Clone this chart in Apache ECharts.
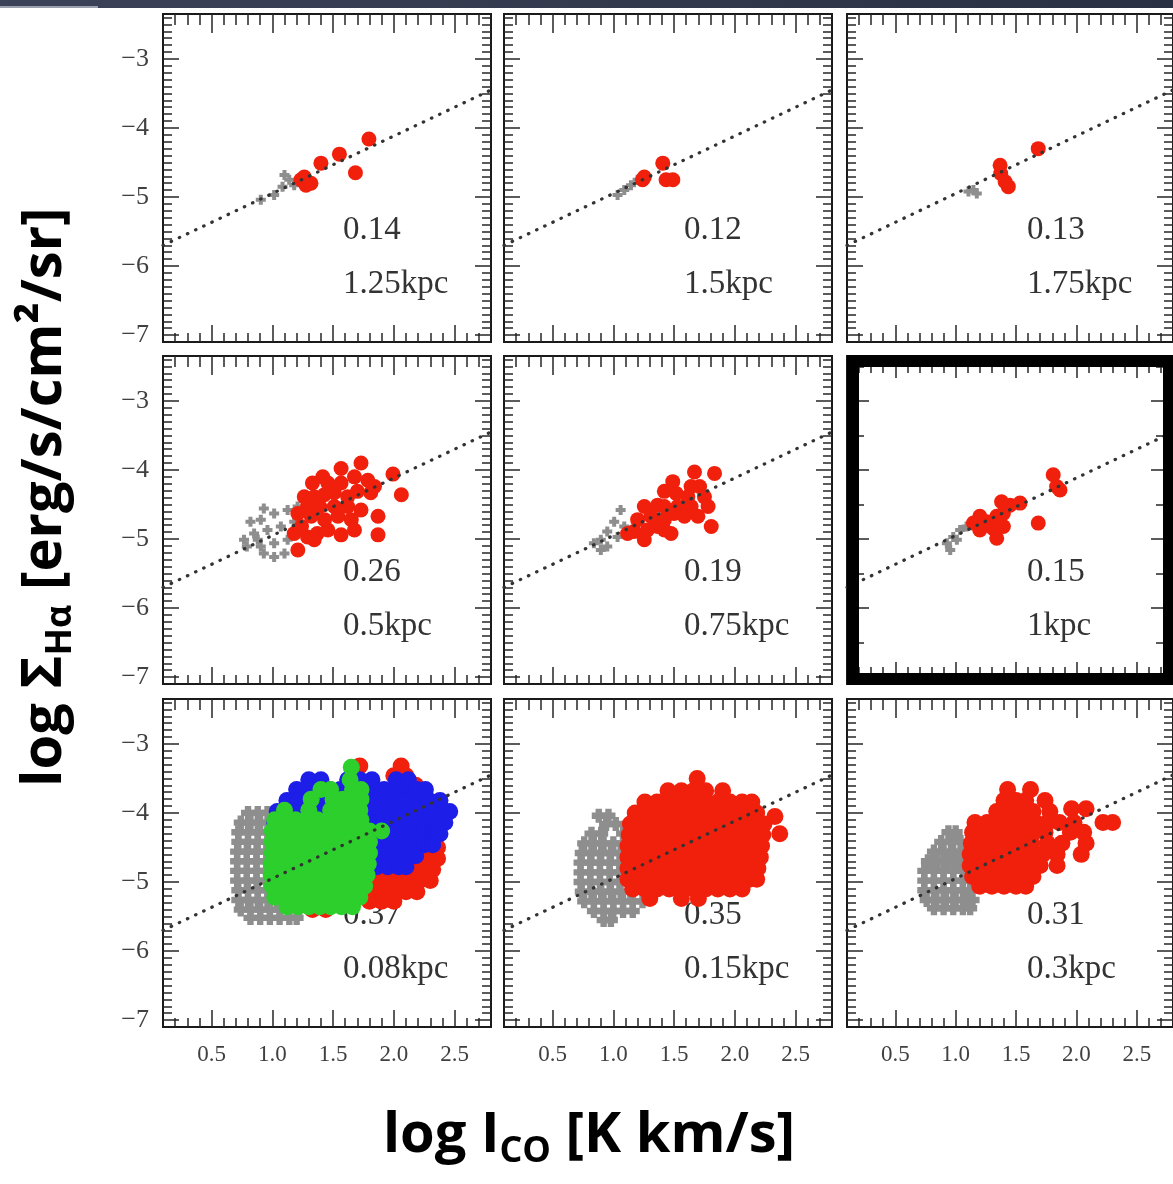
<!DOCTYPE html>
<html>
<head>
<meta charset="utf-8">
<script src="https://cdn.jsdelivr.net/npm/echarts@6.0.0/dist/echarts.min.js"></script>
<style>
  html, body { margin: 0; padding: 0; background: #fff; }
  #chart { width: 1173px; height: 1184px; }
</style>
</head>
<body>
<div id="chart"></div>
<script>
// axis ranges and ticks (shared by all nine panels)
const xRange = [0.1, 2.8]
const yRange = [-7.1, -2.35]
const xMajorTicks = [0.5, 1.0, 1.5, 2.0, 2.5]
const xMinorTicks = [0.2, 0.3, 0.4, 0.6, 0.7, 0.8, 0.9, 1.1, 1.2, 1.3, 1.4, 1.6, 1.7, 1.8, 1.9, 2.1, 2.2, 2.3, 2.4, 2.6, 2.7]
const yMajorTicks = [-7, -6, -5, -4, -3]
const yHalfTicks = [-6.5, -5.5, -4.5, -3.5, -2.5]
const yMinorTicks = []
for (let v = -70; v <= -24; v++) if (v % 10 !== 0) yMinorTicks.push(v / 10)

// dotted relation line
const fitX = [0.1, 2.8]
const fitY = [-5.7, -3.45]

// panel annotations (row by row)
const corrLabels = ['0.14', '0.12', '0.13', '0.26', '0.19', '0.15', '0.37', '0.35', '0.31']
const scaleLabels = ['1.25kpc', '1.5kpc', '1.75kpc', '0.5kpc', '0.75kpc', '1kpc', '0.08kpc', '0.15kpc', '0.3kpc']

// --- sparse panels: [log I_CO, log Sigma_Halpha]
const gray_125 = [[0.905, -5.04], [1.015, -4.97], [1.084, -4.85], [1.139, -4.75], [1.10, -4.68], [1.18, -4.83]]
const red_125 = [[1.235, -4.75], [1.263, -4.71], [1.318, -4.80], [1.277, -4.83], [1.40, -4.51], [1.552, -4.38], [1.684, -4.65], [1.795, -4.16]]

const gray_15 = [[1.035, -4.97], [1.09, -4.90], [1.145, -4.83], [1.20, -4.75]]
const red_15 = [[1.24, -4.75], [1.255, -4.71], [1.407, -4.51], [1.434, -4.75], [1.49, -4.75]]

const gray_175 = [[1.106, -4.92], [1.147, -4.90], [1.175, -4.95]]
const red_175 = [[1.368, -4.54], [1.373, -4.66], [1.41, -4.78], [1.436, -4.85], [1.684, -4.30]]

const gray_05 = [[0.93, -4.56], [0.82, -4.75], [0.905, -4.72], [1.015, -4.63], [1.126, -4.58], [1.208, -4.53],
  [0.767, -5.01], [0.85, -4.92], [0.96, -4.87], [1.07, -4.82], [1.18, -4.75], [0.79, -5.11], [0.905, -5.11],
  [1.015, -5.06], [1.126, -5.01], [1.015, -5.26], [0.93, -5.21], [1.10, -5.21], [1.18, -4.92], [0.88, -5.01]]
const red_05 = [[1.73, -3.90], [1.566, -3.98], [1.415, -4.10], [1.33, -4.19], [1.457, -4.19], [1.566, -4.19],
  [1.676, -4.10], [1.786, -4.15], [1.841, -4.24], [1.993, -4.06], [2.062, -4.36], [1.263, -4.39], [1.345, -4.39],
  [1.428, -4.36], [1.51, -4.33], [1.62, -4.39], [1.70, -4.31], [1.81, -4.33], [1.29, -4.53], [1.39, -4.53],
  [1.51, -4.53], [1.62, -4.53], [1.73, -4.58], [1.87, -4.67], [1.21, -4.63], [1.32, -4.67], [1.43, -4.72],
  [1.54, -4.67], [1.65, -4.72], [1.18, -4.92], [1.29, -4.97], [1.37, -4.92], [1.457, -4.87], [1.566, -4.94],
  [1.676, -4.87], [1.87, -4.94], [1.21, -5.16], [1.345, -5.01], [1.24, -4.82]]

const gray_075 = [[1.06, -4.58], [1.007, -4.75], [0.95, -4.89], [0.897, -5.01], [0.84, -5.06], [0.95, -5.11],
  [1.035, -4.97], [1.09, -4.82], [0.897, -5.16]]
const red_075 = [[1.668, -4.03], [1.833, -4.05], [1.489, -4.17], [1.64, -4.24], [1.71, -4.24], [1.42, -4.31],
  [1.517, -4.34], [1.613, -4.39], [1.75, -4.39], [1.255, -4.53], [1.365, -4.51], [1.42, -4.53], [1.53, -4.53],
  [1.64, -4.53], [1.78, -4.53], [1.20, -4.72], [1.31, -4.67], [1.42, -4.72], [1.50, -4.63], [1.585, -4.67],
  [1.696, -4.67], [1.806, -4.82], [1.17, -4.89], [1.255, -5.01], [1.365, -4.82], [1.475, -4.92], [1.28, -4.87],
  [1.42, -4.87], [1.117, -4.92]]

const gray_1 = [[0.927, -5.06], [0.98, -4.97], [1.037, -4.87], [1.09, -4.82], [0.955, -5.16], [1.01, -5.01]]
const red_1 = [[1.808, -4.07], [1.836, -4.24], [1.864, -4.29], [1.38, -4.46], [1.533, -4.48], [1.45, -4.51],
  [1.20, -4.67], [1.258, -4.75], [1.34, -4.67], [1.395, -4.63], [1.20, -4.87], [1.312, -4.85], [1.34, -4.99],
  [1.395, -4.82], [1.147, -4.77], [1.684, -4.77]]

// --- dense panels, written as rows: [log Sigma, [log I_CO values]]
const gray_008_rows = [
  [-4.00, [0.80, 0.88, 0.96]],
  [-4.14, [0.74, 0.82, 0.90, 0.98]],
  [-4.28, [0.72, 0.80, 0.88, 0.96, 1.04]],
  [-4.42, [0.72, 0.80, 0.88, 0.96, 1.04]],
  [-4.56, [0.71, 0.79, 0.87, 0.95, 1.03]],
  [-4.70, [0.71, 0.79, 0.87, 0.95, 1.03]],
  [-4.84, [0.71, 0.79, 0.87, 0.95, 1.03]],
  [-4.98, [0.71, 0.79, 0.87, 0.95, 1.03]],
  [-5.12, [0.72, 0.80, 0.88, 0.96, 1.04]],
  [-5.26, [0.72, 0.80, 0.88, 0.96, 1.04, 1.12]],
  [-5.40, [0.74, 0.82, 0.90, 0.98, 1.06, 1.14, 1.22]],
  [-5.52, [0.82, 0.90, 0.98, 1.06, 1.14, 1.20]]
]
const red_008_rows = [
  [-3.32, [1.72, 2.06]],
  [-3.46, [2.00, 2.10]],
  [-3.60, [2.18]],
  [-4.50, [2.30, 2.36]],
  [-4.66, [2.22, 2.30, 2.36]],
  [-4.82, [1.78, 1.87, 1.96, 2.05, 2.14, 2.23, 2.32]],
  [-4.98, [1.76, 1.85, 1.94, 2.03, 2.12, 2.21, 2.30]],
  [-5.14, [1.74, 1.83, 1.92, 2.01, 2.10, 2.19]],
  [-5.28, [1.38, 1.48, 1.80, 1.90, 2.00]],
  [-5.40, [1.33, 1.44]]
]
const blue_008_rows = [
  [-3.52, [1.30, 1.40, 1.62, 1.72, 1.82, 2.02, 2.12]],
  [-3.66, [1.20, 1.29, 1.38, 1.47, 1.56, 1.65, 1.74, 1.83, 1.92, 2.01, 2.10, 2.19, 2.26]],
  [-3.82, [1.12, 1.21, 1.30, 1.39, 1.48, 1.57, 1.66, 1.75, 1.84, 1.93, 2.02, 2.11, 2.20, 2.29, 2.38]],
  [-3.98, [1.04, 1.13, 1.22, 1.31, 1.40, 1.49, 1.58, 1.67, 1.76, 1.85, 1.94, 2.03, 2.12, 2.21, 2.30, 2.40, 2.46]],
  [-4.14, [1.02, 1.80, 1.89, 1.98, 2.07, 2.16, 2.25, 2.34, 2.42]],
  [-4.30, [1.80, 1.89, 1.98, 2.07, 2.16, 2.25, 2.34, 2.38]],
  [-4.46, [1.80, 1.89, 1.98, 2.07, 2.16, 2.25, 2.32]],
  [-4.62, [1.82, 1.91, 2.00, 2.09, 2.18]],
  [-4.78, [1.86, 1.95, 2.04, 2.10]]
]
const green_008_rows = [
  [-3.34, [1.65]],
  [-3.52, [1.64]],
  [-3.66, [1.40, 1.48, 1.66, 1.73]],
  [-3.80, [1.32, 1.50, 1.58, 1.66, 1.73]],
  [-3.96, [1.10, 1.30, 1.48, 1.56, 1.64, 1.72]],
  [-4.10, [1.02, 1.10, 1.19, 1.28, 1.37, 1.46, 1.55, 1.64, 1.73]],
  [-4.26, [1.00, 1.09, 1.18, 1.27, 1.36, 1.45, 1.54, 1.63, 1.72, 1.80, 1.90]],
  [-4.42, [1.00, 1.09, 1.18, 1.27, 1.36, 1.45, 1.54, 1.63, 1.72, 1.80]],
  [-4.58, [1.00, 1.09, 1.18, 1.27, 1.36, 1.45, 1.54, 1.63, 1.72, 1.80]],
  [-4.74, [0.99, 1.08, 1.17, 1.26, 1.35, 1.44, 1.53, 1.62, 1.71, 1.79]],
  [-4.90, [0.99, 1.08, 1.17, 1.26, 1.35, 1.44, 1.53, 1.62, 1.71, 1.78]],
  [-5.06, [1.00, 1.09, 1.18, 1.27, 1.36, 1.45, 1.54, 1.63, 1.72, 1.76]],
  [-5.22, [1.02, 1.11, 1.20, 1.29, 1.38, 1.47, 1.56, 1.65, 1.72]],
  [-5.36, [1.12, 1.21, 1.30, 1.39, 1.48, 1.57, 1.66]]
]

const gray_015_rows = [
  [-4.04, [0.88, 0.96]],
  [-4.16, [0.94, 1.02]],
  [-4.30, [0.82, 0.90, 1.08, 1.16]],
  [-4.44, [0.76, 0.84, 0.92, 1.00, 1.08, 1.16]],
  [-4.58, [0.74, 0.82, 0.90, 0.98, 1.06, 1.14]],
  [-4.72, [0.73, 0.81, 0.89, 0.97, 1.05, 1.13]],
  [-4.86, [0.73, 0.81, 0.89, 0.97, 1.05, 1.13]],
  [-5.00, [0.73, 0.81, 0.89, 0.97, 1.05, 1.13]],
  [-5.14, [0.74, 0.82, 0.90, 0.98, 1.06, 1.14]],
  [-5.28, [0.76, 0.84, 0.92, 1.00, 1.08, 1.16, 1.24]],
  [-5.42, [0.84, 0.92, 1.00, 1.08, 1.16]],
  [-5.55, [0.92, 0.98]]
]
const red_015_rows = [
  [-3.50, [1.69]],
  [-3.68, [1.45, 1.56, 1.66, 1.76, 1.90]],
  [-3.84, [1.26, 1.36, 1.46, 1.56, 1.66, 1.76, 1.86, 1.96, 2.06, 2.14]],
  [-4.00, [1.18, 1.28, 1.38, 1.48, 1.58, 1.68, 1.78, 1.88, 1.98, 2.08, 2.18]],
  [-4.05, [2.33]],
  [-4.16, [1.14, 1.24, 1.34, 1.44, 1.54, 1.64, 1.74, 1.84, 1.94, 2.04, 2.14, 2.24]],
  [-4.30, [2.37]],
  [-4.32, [1.13, 1.23, 1.33, 1.43, 1.53, 1.63, 1.73, 1.83, 1.93, 2.03, 2.13, 2.23]],
  [-4.48, [1.12, 1.22, 1.32, 1.42, 1.52, 1.62, 1.72, 1.82, 1.92, 2.02, 2.12, 2.22]],
  [-4.64, [1.12, 1.22, 1.32, 1.42, 1.52, 1.62, 1.72, 1.82, 1.92, 2.02, 2.12, 2.21]],
  [-4.80, [1.12, 1.22, 1.32, 1.42, 1.52, 1.62, 1.72, 1.82, 1.92, 2.02, 2.12, 2.19]],
  [-4.96, [1.12, 1.22, 1.32, 1.42, 1.52, 1.62, 1.72, 1.82, 1.92, 2.02, 2.12, 2.18]],
  [-5.10, [1.16, 1.26, 1.36, 1.46, 1.56, 1.66, 1.76, 1.86, 1.96, 2.06]],
  [-5.24, [1.30, 1.56, 1.70]]
]

const gray_03_rows = [
  [-4.28, [0.94, 1.00]],
  [-4.42, [0.88, 0.96, 1.04]],
  [-4.56, [0.82, 0.90, 0.98, 1.06]],
  [-4.70, [0.77, 0.85, 0.93, 1.01, 1.09]],
  [-4.84, [0.74, 0.82, 0.90, 0.98, 1.06, 1.12]],
  [-4.98, [0.74, 0.82, 0.90, 0.98, 1.06, 1.12]],
  [-5.12, [0.74, 0.82, 0.90, 0.98, 1.06, 1.12]],
  [-5.26, [0.76, 0.84, 0.92, 1.00, 1.08, 1.14]],
  [-5.38, [0.82, 0.90, 0.98, 1.06, 1.12]]
]
const red_03_rows = [
  [-3.66, [1.43, 1.62]],
  [-3.82, [1.40, 1.50, 1.58, 1.74]],
  [-3.94, [1.96, 2.08]],
  [-3.98, [1.34, 1.44, 1.54, 1.64, 1.78]],
  [-4.14, [1.16, 1.26, 1.36, 1.46, 1.56, 1.66, 1.76, 1.86, 1.98, 2.22, 2.30]],
  [-4.28, [1.14, 1.24, 1.34, 1.44, 1.54, 1.64, 1.74, 1.95, 2.06]],
  [-4.44, [1.13, 1.23, 1.33, 1.43, 1.53, 1.63, 1.76, 1.88, 2.08]],
  [-4.60, [1.12, 1.22, 1.32, 1.42, 1.52, 1.62, 1.72, 1.84, 2.04]],
  [-4.76, [1.12, 1.22, 1.32, 1.42, 1.52, 1.62, 1.70, 1.84]],
  [-4.92, [1.14, 1.24, 1.34, 1.44, 1.54, 1.64]],
  [-5.06, [1.20, 1.30, 1.40, 1.50, 1.58]]
]

function expandRows(rows) {
  const out = []
  rows.forEach(([y, xs]) => xs.forEach(x => out.push([x, y])))
  return out
}

const grayData = [gray_125, gray_15, gray_175, gray_05, gray_075, gray_1,
  expandRows(gray_008_rows), expandRows(gray_015_rows), expandRows(gray_03_rows)]
const redData = [red_125, red_15, red_175, red_05, red_075, red_1,
  expandRows(red_008_rows), expandRows(red_015_rows), expandRows(red_03_rows)]
const blueData = { 6: expandRows(blue_008_rows) }
const greenData = { 6: expandRows(green_008_rows) }

// layout
const colLeft = [163, 504, 847]
const rowTop = [14, 356, 699]
const boxSize = 328
const framedPanel = 5

const RED = '#f0200c'
const BLUE = '#1d1ee8'
const GREEN = '#2ccf2c'
const GRAY = '#8e8e8e'
const TICK = '#262626'
const plusSymbol = 'path://M3,0H7V3H10V7H7V10H3V7H0V3H3Z'
const fatPlusSymbol = 'path://M3,0H8V3H11V8H8V11H3V8H0V3H3Z'
const serif = '"Liberation Serif", "DejaVu Serif", serif'

const chart = echarts.init(document.getElementById('chart'))

const grid = []
const xAxis = []
const yAxis = []
const series = []
const graphic = []

const minusFmt = v => (v < 0 ? '\u2212' : '') + Math.abs(v)

for (let i = 0; i < 9; i++) {
  const r = Math.floor(i / 3)
  const c = i % 3
  const framed = i === framedPanel

  grid.push({
    left: colLeft[c], top: rowTop[r], width: boxSize, height: boxSize,
    show: true, borderColor: '#1a1a1a', borderWidth: 2, backgroundColor: 'transparent'
  })

  const xTick = (pos, ticks, len, withLabels) => ({
    gridIndex: i, type: 'value', min: xRange[0], max: xRange[1], position: pos,
    axisLine: { show: false }, splitLine: { show: false },
    axisTick: { show: true, inside: true, length: len, customValues: ticks,
      lineStyle: { color: TICK, width: 1.5 } },
    axisLabel: withLabels
      ? { show: true, customValues: ticks, margin: 16, fontFamily: serif, fontSize: 23, color: '#404040',
          formatter: v => v.toFixed(1) }
      : { show: false }
  })
  const yTick = (pos, ticks, len, withLabels) => ({
    gridIndex: i, type: 'value', min: yRange[0], max: yRange[1], position: pos,
    axisLine: { show: false }, splitLine: { show: false },
    axisTick: { show: true, inside: true, length: len, customValues: ticks,
      lineStyle: { color: TICK, width: 1.5 } },
    axisLabel: withLabels
      ? { show: true, customValues: ticks, margin: 14, fontFamily: serif, fontSize: 26, color: '#404040',
          formatter: minusFmt }
      : { show: false }
  })

  const yMinor = framed ? yHalfTicks : yMinorTicks
  xAxis.push(xTick('bottom', xMajorTicks, framed ? 22 : 17, r === 2))
  xAxis.push(xTick('bottom', xMinorTicks, framed ? 17 : 9, false))
  xAxis.push(xTick('top', xMajorTicks, framed ? 22 : 19, false))
  xAxis.push(xTick('top', xMinorTicks, framed ? 17 : 11, false))
  yAxis.push(yTick('left', yMajorTicks, framed ? 22 : 16, c === 0))
  yAxis.push(yTick('left', yMinor, framed ? 17 : 9, false))
  yAxis.push(yTick('right', yMajorTicks, framed ? 22 : 16, false))
  yAxis.push(yTick('right', yMinor, framed ? 17 : 9, false))

  const ax = { xAxisIndex: i * 4, yAxisIndex: i * 4 }
  const dense = r === 2
  const dotSize = dense ? 17 : 15

  series.push(Object.assign({
    type: 'line', silent: true, symbol: 'none',
    data: fitX.map((x, k) => [x, fitY[k]]),
    lineStyle: { color: '#333', width: 3.2, type: [0.5, 8.5], cap: 'round' }
  }, ax))
  series.push(Object.assign({
    type: 'scatter', silent: true, symbol: dense ? fatPlusSymbol : plusSymbol, symbolSize: dense ? 14 : 10,
    itemStyle: { color: GRAY, opacity: 1 }, data: grayData[i]
  }, ax))
  series.push(Object.assign({
    type: 'scatter', silent: true, symbolSize: dotSize,
    itemStyle: { color: RED, opacity: 1 }, data: redData[i]
  }, ax))
  if (blueData[i]) {
    series.push(Object.assign({
      type: 'scatter', silent: true, symbolSize: dotSize,
      itemStyle: { color: BLUE, opacity: 1 }, data: blueData[i]
    }, ax))
  }
  if (greenData[i]) {
    series.push(Object.assign({
      type: 'scatter', silent: true, symbolSize: dotSize,
      itemStyle: { color: GREEN, opacity: 1 }, data: greenData[i]
    }, ax))
  }

  // panel annotation text sits under the points
  graphic.push({
    type: 'text', z: 0, x: colLeft[c] + 180, y: rowTop[r] + 216,
    style: { text: corrLabels[i], font: '33px ' + serif, fill: '#333', textVerticalAlign: 'middle' }
  })
  graphic.push({
    type: 'text', z: 0, x: colLeft[c] + 180, y: rowTop[r] + 270,
    style: { text: scaleLabels[i], font: '33px ' + serif, fill: '#333', textVerticalAlign: 'middle' }
  })
}

// thick frame around the 1 kpc panel
graphic.push({
  type: 'rect', z: 100, silent: true,
  shape: { x: 853, y: 361, width: 316, height: 318 },
  style: { fill: 'none', stroke: '#000', lineWidth: 12 }
})

// slide banner at the top
graphic.push({
  type: 'rect', z: 100, shape: { x: 0, y: 0, width: 1173, height: 8 },
  style: { fill: new echarts.graphic.LinearGradient(0, 0, 1, 0, [
    { offset: 0, color: '#3c4358' }, { offset: 1, color: '#2a3044' }]) }
})
graphic.push({
  type: 'rect', z: 101, shape: { x: 0, y: 6, width: 98, height: 2 },
  style: { fill: '#9aa0ae' }
})

// axis titles
const titleRich = {
  m: { fontFamily: '"Open Sans", "Noto Sans", sans-serif', fontWeight: 'bold', fontSize: 56, fill: '#000' },
  s: { fontFamily: '"Open Sans", "Noto Sans", sans-serif', fontWeight: 'bold', fontSize: 36, fill: '#000',
       verticalAlign: 'bottom', padding: [32, 0, 0, 0] }
}
graphic.push({
  type: 'text', z: 100, x: 45, y: 497, rotation: Math.PI / 2,
  style: { text: '{m|log \u03a3}{s|H\u03b1}{m| [erg/s/cm\u00b2/sr]}', rich: titleRich,
    textAlign: 'center', textVerticalAlign: 'middle' }
})
graphic.push({
  type: 'text', z: 100, x: 589, y: 1136,
  style: { text: '{m|log I}{s|CO}{m| [K km/s]}', rich: titleRich,
    textAlign: 'center', textVerticalAlign: 'middle' }
})

chart.setOption({
  animation: false,
  backgroundColor: '#fff',
  grid, xAxis, yAxis, series, graphic
})
</script>
</body>
</html>
